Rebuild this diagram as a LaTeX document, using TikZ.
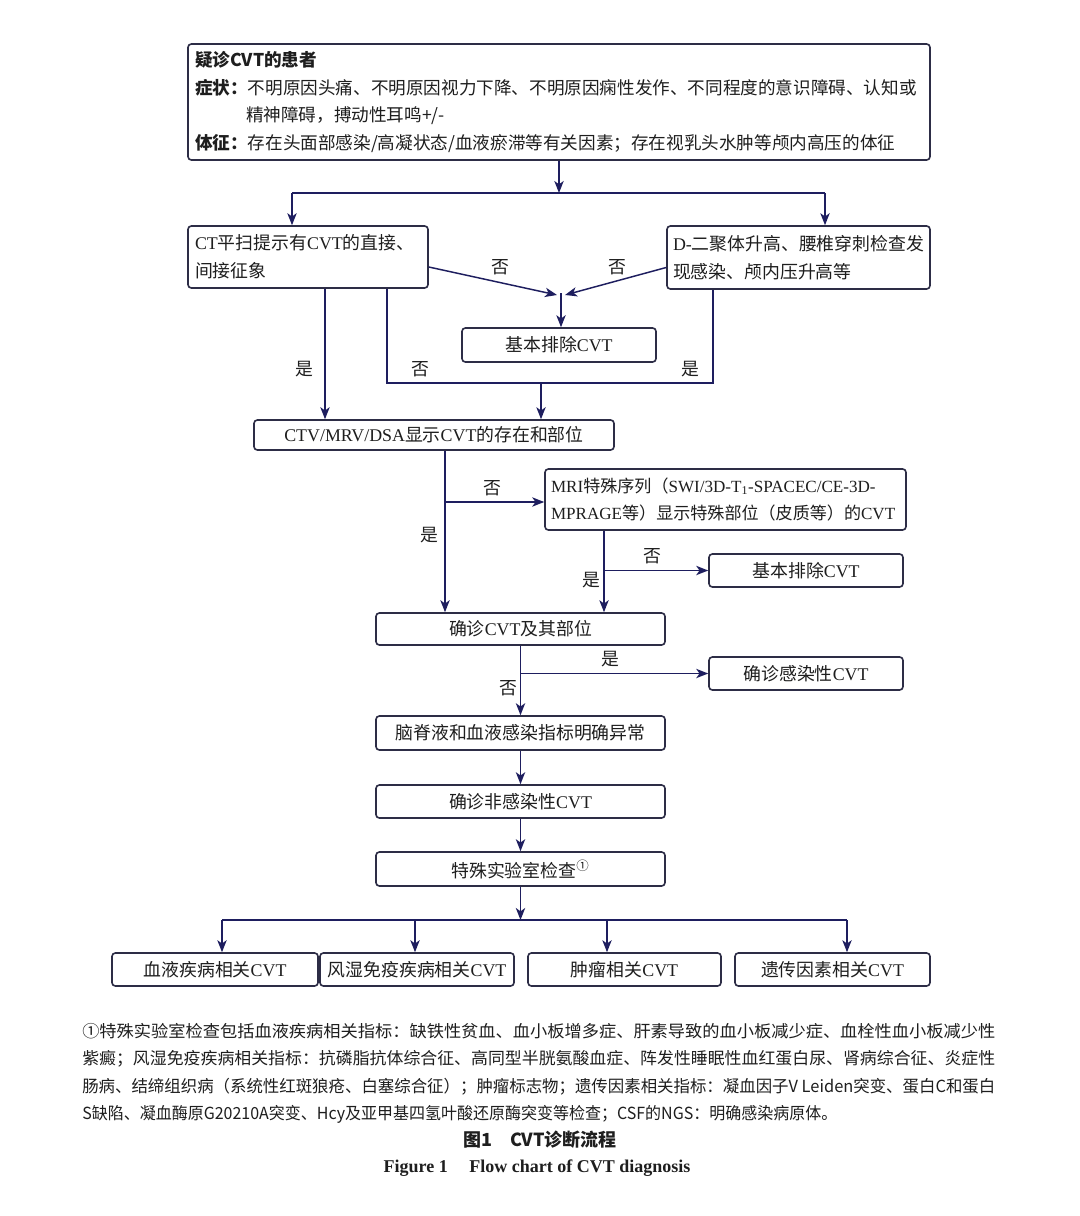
\documentclass[tikz,border=0pt]{standalone}
\usepackage{fontspec}
\usepackage{graphicx}
\setmainfont{Noto Sans CJK SC}
\newfontfamily\tnr{Liberation Serif}
\usetikzlibrary{arrows.meta,calc}
\newcommand\latn[1]{{\tnr #1}}
\definecolor{arrc}{RGB}{30,30,95}
\definecolor{boxc}{RGB}{45,45,70}
\definecolor{txtc}{RGB}{30,30,30}
\newdimen\px \px=0.75pt
\begin{document}
\begin{tikzpicture}[x=0.75pt,y=-0.75pt,
  box/.style={draw=boxc, line width=1.2pt, rounded corners=2.5pt, inner sep=0pt, text=txtc,
    font=\fontsize{13.4}{21}\selectfont},
  conn/.style={draw=arrc, line width=1.1pt},
  arr/.style={conn, -{Stealth[length=9pt,width=7pt,inset=2.5pt]}},
  lbl/.style={font=\fontsize{13.4}{16}\selectfont, inner sep=0pt, text=txtc},
  fn/.style={font=\fontsize{12.5}{15}\selectfont, inner sep=0pt, text=txtc}]
\useasboundingbox[fill=white] (0,0) rectangle (1080,1216);

% boxes
\node[box, minimum width=742*\px, minimum height=116*\px, text width=728*\px, align=left,
  font=\fontsize{13.2}{20.8}\selectfont] (top) at (559,102)
  {{\bfseries 疑诊CVT的患者}\\
   {\bfseries 症状：}不明原因头痛、不明原因视力下降、不明原因痫性发作、不同程度的意识障碍、认知或\\
   \hspace*{2.9em}精神障碍，搏动性耳鸣+/-\\
   {\bfseries 体征：}存在头面部感染/高凝状态/血液瘀滞等有关因素；存在视乳头水肿等颅内高压的体征};
\node[box, minimum width=240*\px, minimum height=62*\px, text width=226*\px, align=left] (ct) at (308,257)
  {\mbox{\latn{CT}平扫提示有\latn{CVT}的直接、}\\间接征象};
\node[box, minimum width=263*\px, minimum height=63*\px, text width=251*\px, align=left] (dd) at (798.5,257.5)
  {\mbox{\latn{D-}二聚体升高、腰椎穿刺检查发}\\\mbox{现感染、颅内压升高等}};
\node[box, minimum width=194*\px, minimum height=34*\px] (bp1) at (559,345) {基本排除\latn{CVT}};
\node[box, minimum width=360*\px, minimum height=30*\px] (ctv) at (434,435) {\latn{CTV/MRV/DSA}显示\latn{CVT}的存在和部位};
\node[box, minimum width=361*\px, minimum height=61*\px, text width=349*\px, align=left,
  font=\fontsize{12.8}{20.5}\selectfont] (mri) at (725.5,499.5)
  {\mbox{\latn{MRI}特殊序列（\latn{SWI/3D-T\textsubscript{1}-SPACEC/CE-3D-}}\\\mbox{\latn{MPRAGE}等）显示特殊部位（皮质等）的\latn{CVT}}};
\node[box, minimum width=194*\px, minimum height=33*\px] (bp2) at (806,570.5) {基本排除\latn{CVT}};
\node[box, minimum width=289*\px, minimum height=32*\px] (cz) at (520.5,629) {确诊\latn{CVT}及其部位};
\node[box, minimum width=194*\px, minimum height=33*\px] (inf) at (806,673.5) {确诊感染性\latn{CVT}};
\node[box, minimum width=289*\px, minimum height=34*\px] (csf) at (520.5,733) {脑脊液和血液感染指标明确异常};
\node[box, minimum width=289*\px, minimum height=33*\px] (ninf) at (520.5,801.5) {确诊非感染性\latn{CVT}};
\node[box, minimum width=289*\px, minimum height=34*\px] (lab) at (520.5,869) {特殊实验室检查\textsuperscript{①}};
\node[box, minimum width=206*\px, minimum height=33*\px] (c1) at (215,969.5) {血液疾病相关\latn{CVT}};
\node[box, minimum width=194*\px, minimum height=33*\px] (c2) at (417,969.5) {风湿免疫疾病相关\latn{CVT}};
\node[box, minimum width=193*\px, minimum height=33*\px] (c3) at (624.5,969.5) {肿瘤相关\latn{CVT}};
\node[box, minimum width=195*\px, minimum height=33*\px] (c4) at (832.5,969.5) {遗传因素相关\latn{CVT}};

% connectors: top split
\coordinate (ts) at (559,193);
\coordinate (tl) at (292,193);
\coordinate (tr) at (825,193);
\draw[arr] (top.south) -- (ts);
\draw[conn] (tl) -- (tr);
\draw[arr] (tl) -- (tl |- ct.north);
\draw[arr] (tr) -- (tr |- dd.north);

% convergence to first exclusion
\coordinate (m) at (561,295);
\draw[arr] ($(ct.east)+(0,10)$) -- ($(m)+(-4,0)$);
\draw[arr] ($(dd.west)+(0,10)$) -- ($(m)+(4,0)$);
\draw[arr] ($(m)+(0,-2)$) -- (m |- bp1.north);
\node[lbl] (n1) at (500,267) {否};
\node[lbl] (n2) at (617,267) {否};

% to CTV
\coordinate (yl) at (0,383);
\coordinate (xa) at (325,0);
\coordinate (xb) at (387,0);
\coordinate (xc) at (713,0);
\coordinate (xd) at (541,0);
\draw[arr] (xa |- ct.south) -- (xa |- ctv.north);
\draw[conn] (xb |- ct.south) |- (xc |- yl) -- (xc |- dd.south);
\draw[arr] (xd |- yl) -- (xd |- ctv.north);
\node[lbl] (y1) at (304,369) {是};
\node[lbl] (n3) at (420,369) {否};
\node[lbl] (y2) at (690,369) {是};

% CTV branches
\coordinate (xe) at (445,0);
\coordinate (y5) at (0,502);
\draw[arr] (xe |- ctv.south) -- (xe |- cz.north);
\draw[arr] (xe |- y5) -- (mri.west |- y5);
\node[lbl] (n4) at (492,488) {否};
\node[lbl] (y3) at (429,535) {是};

% MRI branches
\coordinate (xf) at (604,0);
\draw[arr] (xf |- mri.south) -- (xf |- cz.north);
\draw[arr] (xf |- bp2.west) -- (bp2.west);
\node[lbl] (n5) at (652,556) {否};
\node[lbl] (y4) at (591,580) {是};

% confirmation branches
\draw[arr] (cz.south) -- (csf.north);
\draw[arr] (cz.south |- inf.west) -- (inf.west);
\node[lbl] (y5l) at (610,659) {是};
\node[lbl] (n6) at (508,688) {否};
\draw[arr] (csf.south) -- (ninf.north);
\draw[arr] (ninf.south) -- (lab.north);

% bottom split
\coordinate (hc) at (521,920);
\coordinate (h1) at (222,920);
\coordinate (h2) at (415,920);
\coordinate (h3) at (607,920);
\coordinate (h4) at (847,920);
\draw[arr] (lab.south) -- (lab.south |- hc);
\draw[conn] (h1) -- (h4);
\draw[arr] (h1) -- (h1 |- c1.north);
\draw[arr] (h2) -- (h2 |- c2.north);
\draw[arr] (h3) -- (h3 |- c3.north);
\draw[arr] (h4) -- (h4 |- c4.north);

% footnote
\node[fn, anchor=base west] (f1) at (82,1037) {\resizebox{913\px}{\height}{①特殊实验室检查包括血液疾病相关指标：缺铁性贫血、血小板增多症、肝素导致的血小板减少症、血栓性血小板减少性}};
\node[fn, anchor=base west] (f2) at (82,1064) {\resizebox{913\px}{\height}{紫癜；风湿免疫疾病相关指标：抗磷脂抗体综合征、高同型半胱氨酸血症、阵发性睡眠性血红蛋白尿、肾病综合征、炎症性}};
\node[fn, anchor=base west] (f3) at (82,1092) {\resizebox{913\px}{\height}{肠病、结缔组织病（系统性红斑狼疮、白塞综合征）；肿瘤标志物；遗传因素相关指标：凝血因子V Leiden突变、蛋白C和蛋白}};
\node[fn, anchor=base west] (f4) at (82,1119) {\resizebox{755\px}{\height}{S缺陷、凝血酶原G20210A突变、Hcy及亚甲基四氢叶酸还原酶突变等检查；CSF的NGS：明确感染病原体。}};

% caption
\node[inner sep=0pt, text=txtc, font=\bfseries\fontsize{13.5}{16}\selectfont] (cap1) at (540,1140) {图1\hspace{1em}CVT诊断流程};
\node[inner sep=0pt, text=txtc, font=\tnr\bfseries\fontsize{13.5}{16}\selectfont] (cap2) at (537,1168) {Figure 1\hspace{1.2em}Flow chart of CVT diagnosis};
\end{tikzpicture}
\end{document}
